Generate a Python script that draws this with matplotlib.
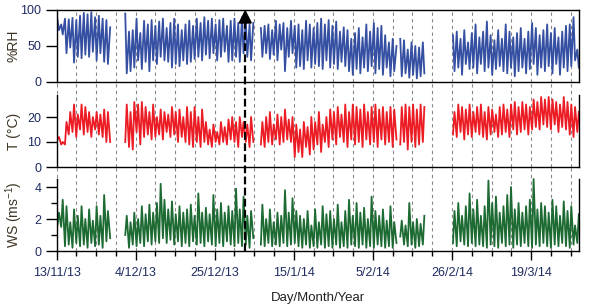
import numpy as np
import matplotlib
matplotlib.use('Agg')
from matplotlib import pyplot as plt
from matplotlib import transforms
from matplotlib.patches import Polygon

plt.rcParams['font.family'] = ['Liberation Sans', 'DejaVu Sans']
plt.rcParams['mathtext.default'] = 'regular'

# daily values, day 0 = 13/11/13 (None = no data)
# RH: night maximum then afternoon minimum
rh_hi = ([87, 80, 88, 87, 89, 86, 92, 96, 94, 97, 90, 92, 88, 86, 76]
         + [None] * 3
         + [95, 70, 72, 88, 68, 85, 80, 86, 78, 84, 88, 75, 82, 88, 80, 72, 80, 85,
            78, 88, 82, 90, 85, 88, 80, 86, 88, 78, 85, 88, 82, 90, 85, 80, 82]
         + [None]
         + [75, 78, 80, 72, 85, 80, 82, 75, 85, 78, 80, 72, 85, 80, 75, 82, 88, 80,
            86, 78, 84, 70, 76, 72, 60, 68, 75, 62, 80, 70, 82, 75, 78, 65, 55, 60,
            50, 60, 58, 45, 55, 50, 48, 55]
         + [None] * 7
         + [65, 70, 60, 72, 55, 68, 80, 62, 70, 84, 65, 58, 72, 60, 80, 70, 62, 68,
            75, 60, 70, 82, 75, 65, 72, 80, 68, 75, 62, 70, 78, 80, 90, 45])
rh_lo = ([72, 66, 40, 48, 27, 35, 33, 38, 35, 42, 30, 40, 28, 25, None]
         + [None] * 3
         + [12, 15, 20, 30, 18, 28, 15, 30, 25, 35, 30, 28, 20, 25, 22, 30, 25, 28,
            32, 35, 30, 38, 33, 40, 30, 35, 42, 28, 30, 35, 28, 40, 35, 30, None]
         + [None]
         + [35, 40, 32, 38, 30, 45, 15, 35, 40, 20, 22, 18, 30, 20, 25, 22, 18, 30,
            20, 25, 18, 28, 22, 15, 10, 18, 12, 20, 15, 22, 12, 18, 10, 20, 8, 15,
            None, 8, 12, 6, 10, 5, 8, 12]
         + [None] * 7
         + [15, 20, 10, 25, 18, 20, 12, 25, 15, 20, 10, 18, 22, 15, 12, 20, 8, 15,
            20, 12, 18, 25, 10, 20, 15, 22, 12, 25, 10, 20, 15, 22, 30, 20])

# T: morning minimum then afternoon maximum
t_lo = ([11, 9, 9, 13, 14, 12, 15, 13, 14, 12, 15, 13, 12, 10, 10]
        + [None] * 3
        + [10, 8, 7, 14, 9, 12, 13, 11, 12, 13, 11, 14, 12, 13, 10, 12, 10, 9,
           8, 10, 8, 10, 9, 8, 10, 9, 10, 9, 11, 10, 8, 12, 10, 8, 10]
        + [None]
        + [9, 8, 10, 9, 11, 9, 10, 11, 10, 4, 6, 4, 8, 5, 7, 9, 6, 10,
           8, 11, 9, 12, 10, 8, 11, 9, 10, 8, 11, 9, 10, 8, 11, 9, 10, 8,
           11, 9, 10, 7, 10, 8, 9, 10]
        + [None] * 7
        + [13, 12, 14, 11, 13, 12, 14, 13, 12, 11, 13, 14, 12, 13, 14, 12, 15, 13,
           14, 15, 13, 15, 16, 15, 17, 16, 15, 17, 14, 16, 15, 13, 12, 14])
t_hi = ([12, 10, 18, 22, 25, 21, 25, 24, 22, 20, 22, 21, 23, 22, None]
        + [None] * 3
        + [25, 22, 26, 25, 26, 24, 22, 25, 20, 23, 22, 21, 24, 22, 23, 20, 24, 22,
           24, 20, 23, 18, 15, 17, 14, 18, 16, 19, 20, 18, 20, 18, 17, 20, None]
        + [None]
        + [18, 20, 22, 17, 21, 20, 23, 19, 20, 17, 15, 18, 16, 20, 18, 22, 17, 20,
           23, 22, 24, 21, 25, 22, 25, 24, 23, 25, 22, 24, 25, 23, 24, 22, 24, 23,
           None, 24, 25, 24, 25, 23, 25, 24]
        + [None] * 7
        + [22, 25, 24, 23, 25, 22, 24, 25, 22, 24, 23, 21, 24, 25, 23, 25, 26, 24,
           26, 25, 24, 27, 26, 28, 27, 28, 27, 26, 25, 28, 26, 25, 24, 22])

# WS: calm then gust
ws_lo = ([1.6, 1.5, 0.3, 0.4, 0.2, 0.5, 0.3, 0.4, 0.2, 0.5, 0.3, 0.4, 0.2, 0.6, 0.8]
         + [None] * 3
         + [1.0, 0.2, 0.4, 0.3, 0.5, 0.3, 0.6, 0.4, 0.6, 0.5, 0.8, 0.5, 0.7, 0.4,
            0.6, 0.3, 0.5, 0.3, 0.6, 0.4, 0.5, 0.3, 0.6, 0.4, 0.3, 0.5, 0.3, 0.6,
            0.4, 0.3, 0.5, 0.3, 0.4, 0.2, 0.8]
         + [None]
         + [0.4, 0.3, 0.5, 0.3, 0.4, 0.3, 0.5, 0.3, 0.4, 0.5, 0.3, 0.2, 0.4, 0.2,
            0.3, 0.2, 0.4, 0.2, 0.3, 0.2, 0.4, 0.2, 0.3, 0.2, 0.4, 0.3, 0.2, 0.4,
            0.2, 0.3, 0.2, 0.4, 0.3, 0.2, 0.3, 0.2, 0.5, 0.9, 0.4, 0.3, 0.4, 0.2,
            0.3, 0.4]
         + [None] * 7
         + [0.5, 0.3, 0.6, 0.4, 0.3, 0.5, 0.3, 0.4, 0.3, 0.2, 0.4, 0.3, 0.2, 0.5,
            0.3, 0.4, 0.2, 0.4, 0.3, 0.5, 0.3, 0.2, 0.4, 0.3, 0.5, 0.3, 0.2, 0.4,
            0.3, 0.5, 0.3, 0.2, 0.4, 0.5])
ws_hi = ([2.4, 3.2, 2.8, 1.8, 2.6, 2.2, 2.8, 2.0, 2.6, 1.9, 2.8, 2.2, 3.5, 2.5, None]
         + [None] * 3
         + [2.2, 1.8, 2.4, 2.0, 2.8, 2.3, 2.9, 2.4, 3.0, 4.2, 3.2, 2.6, 3.1, 2.3,
            2.8, 2.4, 2.6, 2.9, 2.2, 3.6, 2.4, 2.7, 2.3, 3.5, 2.6, 3.0, 2.4, 2.8,
            2.5, 3.9, 2.6, 3.4, 2.2, 2.5, None]
         + [None]
         + [2.9, 2.0, 2.6, 1.8, 2.4, 2.2, 3.8, 2.4, 3.3, 2.5, 2.2, 2.0, 2.5, 1.6,
            2.6, 1.8, 2.8, 2.3, 2.5, 2.0, 2.9, 1.8, 2.5, 3.2, 2.2, 3.0, 2.4, 2.7,
            2.0, 3.4, 2.5, 2.2, 2.6, 1.9, 2.8, 1.8, None, 1.9, 1.6, 3.0, 1.8, 2.0,
            1.7, 2.2]
         + [None] * 7
         + [2.5, 3.0, 2.2, 2.8, 3.6, 2.6, 3.2, 2.2, 2.8, 4.4, 3.0, 3.4, 2.4, 2.8,
            3.5, 4.0, 2.6, 3.0, 2.4, 2.8, 3.2, 4.5, 2.6, 3.0, 2.8, 2.4, 3.2, 2.8,
            2.2, 3.1, 2.5, 2.8, 1.6, 2.3])

date_ticks = [0, 21, 42, 63, 84, 105, 126]
date_labels = ['13/11/13', '4/12/13', '25/12/13', '15/1/14', '5/2/14', '26/2/14', '19/3/14']
event_day = 50.1

days = np.arange(len(rh_hi))


def zigzag(first, second):
    x = np.column_stack([days + 0.25, days + 0.65]).ravel()
    y = np.column_stack([np.array(first, dtype=float),
                         np.array(second, dtype=float)]).ravel()
    return x, y


W, H = 589, 308
fig = plt.figure(figsize=(W / 100, H / 100), dpi=100)
left, right = 56.5 / W, (579 - 56.5) / W
ax1 = fig.add_axes([left, 1 - 82 / H, right, 72 / H])
ax2 = fig.add_axes([left, 1 - 167 / H, right, 85 / H])
ax3 = fig.add_axes([left, 1 - 251 / H, right, 84 / H])
ax2.patch.set_visible(False)
ax3.patch.set_visible(False)

tick_col = '#1f2c62'
ax1.plot(*zigzag(rh_hi, rh_lo), color='#3550a3', lw=1.3)
ax2.plot(*zigzag(t_lo, t_hi), color='#ec1c24', lw=1.3)
ax3.plot(*zigzag(ws_lo, ws_hi), color='#1d6b33', lw=1.3)

ax1.set_ylim(0, 100)
ax1.set_yticks([0, 50, 100])
ax2.set_ylim(0, 34)
ax2.set_yticks([0, 10, 20])
ax3.set_ylim(0, 5.25)
ax3.set_yticks([0, 2, 4])
ax3.set_yticks([1, 3], minor=True)

for ax in (ax2, ax3):
    ax.spines['top'].set_visible(False)
ax2.spines['left'].set_bounds(0, 28.8)
ax2.spines['right'].set_bounds(0, 28.8)
ax3.spines['left'].set_bounds(0, 4.5)
ax3.spines['right'].set_bounds(0, 4.5)

for ax in (ax1, ax2, ax3):
    ax.set_xlim(0, 138.7)
    ax.set_xticks(date_ticks)
    ax.set_xticks(np.arange(0, 139, 5.25), minor=True)
    ax.grid(axis='x', which='both', color='#888888', lw=0.8, ls=(0, (3, 3)))
    ax.set_axisbelow(True)
    for s in ax.spines.values():
        s.set_linewidth(1.0)
        s.set_zorder(5)
    ax.tick_params(axis='y', which='major', length=8, width=1.0, pad=3,
                   labelsize=9, labelcolor=tick_col)
    ax.tick_params(axis='y', which='minor', length=4.3, width=1.0)
    if ax is not ax3:
        ax.tick_params(axis='x', which='both', length=0, labelbottom=False)

ax3.set_xticklabels(date_labels)
ax3.tick_params(axis='x', which='major', length=6.5, width=1.0, pad=5,
                labelsize=9, labelcolor=tick_col)
ax3.tick_params(axis='x', which='minor', length=3.6, width=1.0)

lab_col = '#3c3322'
fig.text(14 / W, 1 - 46 / H, '%RH', rotation=90, ha='center', va='center',
         fontsize=10, color=lab_col)
fig.text(14 / W, 1 - 131 / H, 'T (°C)', rotation=90, ha='center', va='center',
         fontsize=10, color=lab_col)
fig.text(14 / W, 1 - 215 / H, 'WS (ms$^{-1}$)', rotation=90, ha='center',
         va='center', fontsize=10, color=lab_col)
fig.text(318 / W, 1 - 298 / H, 'Day/Month/Year', ha='center', va='center',
         fontsize=9.5, color='#222222')

# dashed event marker through all panels
tr = transforms.blended_transform_factory(ax3.transData, fig.transFigure)
ax3.plot([event_day, event_day], [1 - 251 / H, 1 - 22 / H], transform=tr,
         color='k', lw=1.6, dashes=(3.5, 1.5), clip_on=False, zorder=10)
head = Polygon([(event_day - 1.6, 1 - 23 / H), (event_day + 1.6, 1 - 23 / H),
                (event_day, 1 - 11 / H)], closed=True, color='k',
               transform=tr, clip_on=False, zorder=11)
fig.add_artist(head)

fig.savefig('out.png', dpi=100)
